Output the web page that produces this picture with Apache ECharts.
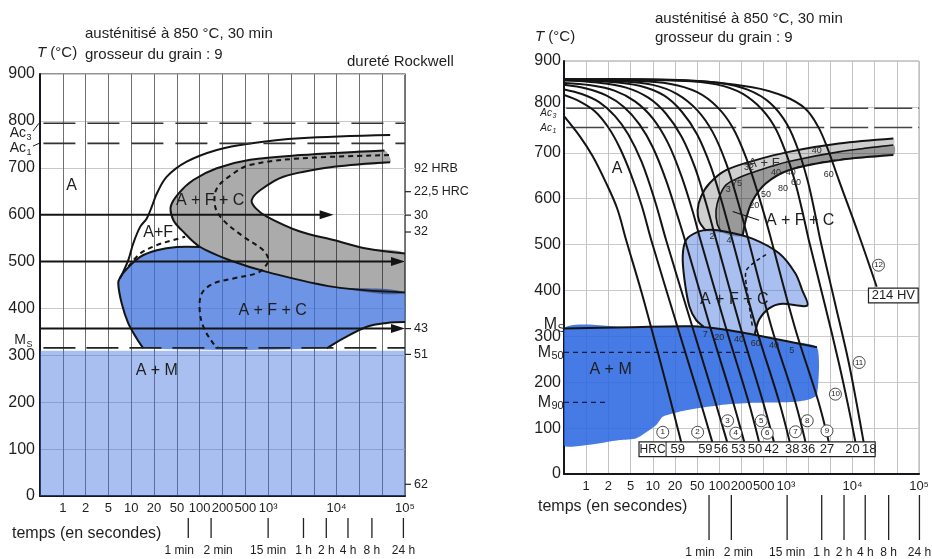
<!DOCTYPE html>
<html><head><meta charset="utf-8">
<script src="https://cdn.jsdelivr.net/npm/echarts@6/dist/echarts.min.js"></script>
<style>html,body{margin:0;padding:0;background:#fff}#c{width:932px;height:559px}</style>
</head><body><div id="c"></div>
<script>
const FONT = '"Liberation Sans", Arial, Helvetica, sans-serif';

// ---------- shared axes ----------
const timeTickLabels = ['', '1', '2', '5', '10', '20', '50', '100', '200', '500', '10³', '', '', '10⁴', '', '', '10⁵'];
const timeMarkPos = [6.5, 7.5, 10.0, 11.55, 12.55, 13.5, 14.55, 15.93];
const timeMarkText = ['1 min', '2 min', '15 min', '1 h', '2 h', '4 h', '8 h', '24 h'];

// ---------- LEFT : isothermal diagram ----------
const L_Ac3 = 795, L_Ac1 = 752, L_Ms = 316, L_martTop = 310;
const L_ferriteStart = [[15.35,770],[11.4,763],[9.21,752],[7.75,738],[6.43,713],[5.56,681],[5.12,645],[4.9,617],[4.68,592],[4.39,574],[4.09,539],[3.87,503],[3.51,464]];
const L_grayOuter = [[15.1,737],[11.4,727],[9.21,717],[7.75,699],[6.72,674],[6.07,645],[5.73,617],[5.85,588],[6.21,567],[7.02,531],[8.48,500],[9.94,478],[12.87,446],[16,434]];
const L_grayInner = [[16,517],[14.3,528],[12.87,546],[11.4,564],[9.94,596],[9.45,614],[9.28,631],[9.65,652],[10.67,681],[12.87,702],[15.35,712]];
const L_bainiteEdge = [[4.53,315],[4.24,336],[3.87,368],[3.58,411],[3.43,453],[3.51,466],[3.8,484],[4.39,510],[5.12,524],[6.0,531],[7.02,531]];
const L_lowerRight = [[12.57,315],[13.3,336],[14.33,361],[15.2,369],[16,371]];
const L_dash50 = [[15.3,727],[11.4,720],[9.2,706],[8.48,688],[7.75,656],[7.68,617],[8.04,588],[8.92,553],[9.79,524],[10.01,503],[9.79,485],[9.5,475],[8.48,464],[7.6,453],[7.09,432],[7.0,396],[7.16,361],[7.6,325],[7.82,316]];
const L_dashAF = [[3.87,489],[4.39,517],[5.12,535],[5.85,546],[6.36,553]];
const L_arrowT = [600, 500, 357];
const L_arrowEnd = [12.87, 16, 16];
const L_hardT = [699, 649, 599, 563, 357, 302, 25];
const L_hardText = ['92 HRB', '22,5 HRC', '30', '32', '43', '51', '62'];
const L_regions = [[1.39,663,'A'],[7.46,631,'A + F + C'],[5.18,561,'A+F'],[10.2,396,'A + F + C'],[5.12,268,'A + M']];

// ---------- RIGHT : continuous cooling diagram ----------
const R_Ac3 = 797, R_Ac1 = 755, R_M50 = 265, R_M90 = 156;
const R_M50End = 8.4, R_M90End = 1.9;
const R_cool1 = [[0,780],[0.7,737],[1.3,692],[1.9,634],[2.4,578],[2.8,510],[3.5,395],[4.2,270],[4.8,160],[5.28,70]];
const R_cool2 = [[0,826],[0.7,812],[1.4,790],[2.0,755],[2.5,712],[3.0,655],[3.5,585],[3.93,510],[5.13,318],[6.1,165],[6.68,70]];
const R_cool3 = [[0,838],[0.8,828],[1.6,810],[2.3,780],[2.9,740],[3.5,680],[4.1,595],[4.6,510],[5.8,318],[6.8,160],[7.35,70]];
const R_cool4 = [[0,848],[1.0,840],[1.9,825],[2.7,800],[3.4,762],[4.0,712],[4.6,640],[5.1,565],[5.45,510],[6.6,318],[7.6,160],[8.12,70]];
const R_cool5 = [[0,852],[1.2,847],[2.3,835],[3.2,812],[4.0,775],[4.7,720],[5.3,648],[5.8,572],[6.15,510],[7.3,318],[8.3,160],[8.79,70]];
const R_cool6 = [[0,858],[1.5,853],[2.8,842],[3.8,820],[4.6,785],[5.3,735],[5.9,668],[6.4,590],[6.8,520],[7.95,320],[8.95,160],[9.46,70]];
const R_cool7 = [[0,858],[2.0,855],[3.4,846],[4.5,825],[5.3,790],[6.0,740],[6.6,672],[7.1,595],[7.5,525],[8.65,320],[9.68,160],[10.17,70]];
const R_cool8 = [[0,859],[2.5,856],[4.0,848],[5.1,828],[6.0,793],[6.7,745],[7.3,678],[7.8,600],[8.2,530],[9.35,320],[10.4,160],[10.88,70]];
const R_cool9 = [[0,859],[3.0,857],[4.8,850],[6.0,832],[6.9,800],[7.6,755],[8.2,690],[8.75,610],[9.2,535],[10.4,320],[11.45,160],[11.93,70]];
const R_cool10 = [[0,860],[4.5,858],[6.5,852],[7.8,835],[8.7,805],[9.45,760],[10.0,700],[10.45,630],[10.8,560],[11.03,510],[11.75,370],[12.38,243],[12.8,150],[13.13,70]];
const R_cool11 = [[0,860],[5.0,858],[7.0,852],[8.3,837],[9.3,808],[10.05,762],[10.6,700],[11.0,635],[11.3,570],[11.55,510],[12.2,375],[12.83,243],[13.2,150],[13.5,70]];
const R_cool12 = [[0,860],[5.5,858],[8.48,843],[9.98,822],[10.9,795],[11.45,757],[11.85,713],[12.38,641],[13.27,523],[14.09,408]];
const R_msLine = [[0,317],[3.0,320],[5.8,322],[7.2,315],[8.4,305],[10.0,290],[11.4,276]];
const R_martBottom = [[11.4,172],[11.0,162],[10.27,157],[8.48,155],[7.0,150],[5.5,139],[4.45,125],[4.16,107],[3.26,78],[2.51,74],[1.02,63],[0,63]];
const R_bainiteEdge = [[8.6,305],[8.79,336],[9.24,361],[9.83,371],[10.96,367],[10.73,401],[10.43,437],[9.69,481],[8.49,513],[7.3,528],[6.6,532],[6.0,527],[5.5,510],[5.35,475],[5.43,423],[5.65,365],[5.95,336],[6.3,321]];
const R_bainiteDash = [[9.1,478],[8.6,462],[8.2,442],[8.25,400],[8.4,350],[8.5,318]];
const R_grayOuter = [[14.84,731],[12.38,720],[10.13,702],[8.64,684],[7.3,662],[6.55,633],[6.17,604],[6.02,575],[6.1,550],[6.4,530]];
const R_grayMiddle = [[14.84,717],[12.38,702],[10.13,681],[8.79,662],[7.9,646],[7.3,630],[7.0,604],[6.85,575],[6.9,546],[7.1,527]];
const R_grayInner = [[14.84,695],[12.38,684],[10.13,662],[9.09,633],[8.49,595],[8.2,555],[8.05,519]];
const R_grayDash = [[10.5,668],[11.7,680],[13.0,688]];
const R_leader = [[7.6,572],[8.79,553]];
const R_regions = [[2.39,666,'A'],[7.67,379,'A + F + C'],[2.1,227,'A + M']];
const R_smallNums = [[11.39,706,'40'],[11.93,652,'60'],[9.55,658,'40'],[10.22,658,'40'],[10.45,636,'60'],[9.87,623,'80'],[9.1,610,'50'],[8.57,586,'20'],[8.34,667,'32'],[7.8,634,'75'],[7.4,619,'3'],[6.67,517,'2'],[7.44,508,'4'],[6.37,304,'7'],[7.0,298,'20'],[7.89,292,'40'],[8.64,285,'60'],[9.46,281,'40'],[10.26,269,'5']];
const R_circles = [[4.45,91,1],[6.02,91,2],[7.37,116,3],[7.74,89,4],[8.89,116,5],[9.16,89,6],[10.43,92,7],[10.96,116,8],[11.85,94,9],[12.23,174,10],[13.3,243,11],[14.17,455,12]];
const R_hrcValues = [59, 59, 56, 53, 50, 42, 38, 36, 27, 20, 18];
const R_hrcPos = [5.13, 6.37, 7.07, 7.86, 8.61, 9.36, 10.28, 10.99, 11.85, 13.0, 13.75];
const R_hrcBoxX = [3.38, 14.02], R_hrcBoxT = [70, 38], R_hrcDivider = 4.6;
const R_hvBoxX = [13.72, 15.96], R_hvBoxT = [405, 373], R_hvText = '214 HV';

// ---------- helpers ----------
const S = [];
function shape(g, pts, o) {
  S.push({
    type: 'custom', xAxisIndex: g, yAxisIndex: g, silent: true, clip: o.clip !== false, z: o.z || 2,
    data: pts.map(p => [p[0], p[1]]),
    renderItem: (params, api) => {
      if (params.dataIndex !== 0) return null;
      const P = pts.map(p => api.coord(p));
      return { type: o.closed ? 'polygon' : 'polyline', shape: { points: P, smooth: o.smooth || 0 }, style: o.style };
    }
  });
}
function fillPoly(g, pts, color, smooth, z) { shape(g, pts, { closed: true, smooth: smooth, z: z || 1, style: { fill: color, stroke: null } }); }
function stroke(g, pts, w, smooth, dash, z, color) {
  shape(g, pts, { closed: false, smooth: smooth, z: z || 3, style: { fill: null, stroke: color || '#141414', lineWidth: w, lineDash: dash || null, lineJoin: 'round', lineCap: 'butt' } });
}
function texts(g, items, o) {
  S.push({
    type: 'custom', xAxisIndex: g, yAxisIndex: g, silent: true, clip: false, z: o.z || 10,
    data: items.map(d => [d[0], d[1]]),
    renderItem: (params, api) => {
      const d = items[params.dataIndex];
      const c = api.coord([d[0], d[1]]);
      return { type: 'text', x: c[0] + (o.dx || 0), y: c[1] + (o.dy || 0),
        style: { text: String(d[2]), fill: o.color || '#1e1e1e', fontSize: o.size, fontFamily: FONT,
          fontStyle: o.italic ? 'italic' : 'normal', align: o.align || 'center', verticalAlign: 'middle' } };
    }
  });
}
// label left of the y axis with subscript
function subLabels(g, items, o) {
  S.push({
    type: 'custom', xAxisIndex: g, yAxisIndex: g, silent: true, clip: false, z: 10,
    data: items.map(d => [0, d[0]]),
    renderItem: (params, api) => {
      const d = items[params.dataIndex];
      const c = api.coord([0, d[0]]);
      const xr = c[0] - o.gap - d[3];
      const ch = [
        { type: 'text', x: xr, y: c[1] + (d[4] || 0), style: { text: d[1], fill: '#1e1e1e', fontSize: o.size, fontFamily: FONT, fontStyle: o.italic ? 'italic' : 'normal', align: 'right', verticalAlign: 'middle' } },
        { type: 'text', x: xr + 0.5, y: c[1] + (d[4] || 0) + o.subDy, style: { text: d[2], fill: '#1e1e1e', fontSize: o.subSize, fontFamily: FONT, fontStyle: o.italic ? 'italic' : 'normal', align: 'left', verticalAlign: 'middle' } }
      ];
      if (d[5] != null) {
        const t = api.coord([0, d[5]]);
        ch.push({ type: 'line', shape: { x1: xr + d[3] + 1, y1: c[1] + (d[4] || 0) - 2, x2: t[0] - 1, y2: t[1] }, style: { stroke: '#222', lineWidth: 1 } });
      }
      return { type: 'group', children: ch };
    }
  });
}

// ================= LEFT CHART (grid 0) =================
fillPoly(0, [[0,0],[16,0],[16,L_martTop],[0,L_martTop]], 'rgba(60,110,220,0.44)', 0, 1);
fillPoly(0, L_bainiteEdge.concat([[8.48,500],[9.94,478],[12.87,446],[16,434],[16,371]]).concat(L_lowerRight.slice().reverse()), 'rgba(60,110,220,0.74)', 0.25, 1);
fillPoly(0, L_grayOuter.concat(L_grayInner), 'rgba(0,0,0,0.33)', 0.25, 1);
stroke(0, L_ferriteStart, 2, 0.35);
stroke(0, L_grayOuter, 2, 0.35);
stroke(0, L_grayInner, 2, 0.35);
stroke(0, L_bainiteEdge, 2, 0.35);
stroke(0, L_lowerRight, 2, 0.35);
stroke(0, L_dash50, 2, 0.35, [5, 4]);
stroke(0, L_dashAF, 2, 0.35, [5, 4]);
stroke(0, [[0.15, L_Ac3], [16, L_Ac3]], 1.6, 0, [32, 12], 3, '#333');
stroke(0, [[0.15, L_Ac1], [16, L_Ac1]], 1.6, 0, [32, 12], 3, '#333');
stroke(0, [[0.15, L_Ms], [16, L_Ms]], 1.8, 0, [32, 11], 3, '#222');
// isothermal arrows
S.push({
  type: 'custom', xAxisIndex: 0, yAxisIndex: 0, silent: true, clip: false, z: 4,
  data: L_arrowT.map((t, i) => [L_arrowEnd[i], t]),
  renderItem: (params, api) => {
    const s = api.coord([0, api.value(1)]), e = api.coord([api.value(0), api.value(1)]);
    return { type: 'group', children: [
      { type: 'line', shape: { x1: s[0], y1: s[1], x2: e[0] - 10, y2: e[1] }, style: { stroke: '#141414', lineWidth: 2 } },
      { type: 'polygon', shape: { points: [[e[0], e[1]], [e[0] - 14, e[1] - 4.5], [e[0] - 14, e[1] + 4.5]] }, style: { fill: '#141414' } }
    ] };
  }
});
// hardness scale at right
S.push({
  type: 'custom', xAxisIndex: 0, yAxisIndex: 0, silent: true, clip: false, z: 10,
  data: L_hardT.map(t => [16, t]),
  renderItem: (params, api) => {
    const c = api.coord([16, api.value(1)]);
    const txt = L_hardText[params.dataIndex];
    const ch = [{ type: 'text', x: c[0] + 9, y: c[1], style: { text: txt, fill: '#1e1e1e', fontSize: 12.5, fontFamily: FONT, align: 'left', verticalAlign: 'middle' } }];
    if (params.dataIndex > 0) ch.push({ type: 'line', shape: { x1: c[0], y1: c[1], x2: c[0] + 6, y2: c[1] }, style: { stroke: '#222', lineWidth: 1.2 } });
    return { type: 'group', children: ch };
  }
});
texts(0, L_regions, { size: 16 });
subLabels(0, [[774, 'Ac', '3', 6, 0, L_Ac3], [742, 'Ac', '1', 6, 0, L_Ac1], [332, 'M', 'S', 6, 0, null]], { gap: 8, size: 14, subSize: 9, subDy: 4 });

// ================= RIGHT CHART (grid 1) =================
fillPoly(1, R_grayOuter.concat(R_grayMiddle.slice().reverse()), 'rgba(0,0,0,0.19)', 0.3, 1);
fillPoly(1, R_grayMiddle.concat(R_grayInner.slice().reverse()), 'rgba(0,0,0,0.40)', 0.3, 1);
fillPoly(1, R_bainiteEdge, 'rgba(60,110,220,0.44)', 0.3, 1);
fillPoly(1, R_msLine.concat(R_martBottom), 'rgba(40,100,225,0.86)', 0.2, 1);
stroke(1, R_grayOuter, 2, 0.35);
stroke(1, R_grayMiddle, 1.6, 0.35);
stroke(1, R_grayInner, 2, 0.35);
stroke(1, R_grayDash, 1.5, 0.3, [6, 5]);
stroke(1, R_bainiteEdge, 2, 0.3);
stroke(1, R_bainiteDash, 1.5, 0.3, [4, 3]);
stroke(1, R_msLine, 2, 0.3);
stroke(1, [[0, R_M50], [R_M50End, R_M50]], 1.2, 0, [5, 4], 3, '#1a1a3a');
stroke(1, [[0, R_M90], [R_M90End, R_M90]], 1.2, 0, [5, 4], 3, '#1a1a3a');
stroke(1, [[0.1, R_Ac3], [16, R_Ac3]], 1.4, 0, [38, 6], 3, '#444');
stroke(1, [[0.1, R_Ac1], [16, R_Ac1]], 1.4, 0, [38, 6], 3, '#444');
[R_cool1, R_cool2, R_cool3, R_cool4, R_cool5, R_cool6, R_cool7, R_cool8, R_cool9, R_cool10, R_cool11, R_cool12]
  .forEach(c => stroke(1, c, 2, 0.35, null, 4));
stroke(1, R_leader, 1.2, 0, null, 4);
texts(1, R_regions, { size: 16 });
texts(1, [[9.01, 677, 'A + F']], { size: 13, color: '#333' });
texts(1, [[9.1, 553, 'A + F + C']], { size: 16, align: 'left' });
texts(1, R_smallNums, { size: 9, color: '#2a2a2a' });
// circled curve numbers
S.push({
  type: 'custom', xAxisIndex: 1, yAxisIndex: 1, silent: true, clip: false, z: 10,
  data: R_circles.map(d => [d[0], d[1]]),
  renderItem: (params, api) => {
    const c = api.coord([api.value(0), api.value(1)]);
    return { type: 'group', children: [
      { type: 'circle', shape: { cx: c[0], cy: c[1], r: 6 }, style: { fill: '#fff', stroke: '#333', lineWidth: 0.9 } },
      { type: 'text', x: c[0], y: c[1], style: { text: String(R_circles[params.dataIndex][2]), fill: '#222', fontSize: 8, fontFamily: FONT, align: 'center', verticalAlign: 'middle' } }
    ] };
  }
});
// HRC table
S.push({
  type: 'custom', xAxisIndex: 1, yAxisIndex: 1, silent: true, clip: false, z: 9,
  data: [[R_hrcBoxX[0], R_hrcBoxT[0]]],
  renderItem: (params, api) => {
    const a = api.coord([R_hrcBoxX[0], R_hrcBoxT[0]]), b = api.coord([R_hrcBoxX[1], R_hrcBoxT[1]]);
    const dv = api.coord([R_hrcDivider, R_hrcBoxT[0]]);
    const ym = (a[1] + b[1]) / 2;
    const ch = [
      { type: 'rect', shape: { x: a[0], y: a[1], width: b[0] - a[0], height: b[1] - a[1] }, style: { fill: '#fff', stroke: '#222', lineWidth: 1.2 } },
      { type: 'line', shape: { x1: dv[0], y1: a[1], x2: dv[0], y2: b[1] }, style: { stroke: '#222', lineWidth: 1 } },
      { type: 'text', x: (a[0] + dv[0]) / 2, y: ym, style: { text: 'HRC', fill: '#1e1e1e', fontSize: 12, fontFamily: FONT, align: 'center', verticalAlign: 'middle' } }
    ];
    R_hrcValues.forEach((v, i) => {
      const p = api.coord([R_hrcPos[i], R_hrcBoxT[0]]);
      ch.push({ type: 'text', x: p[0], y: ym, style: { text: String(v), fill: '#1e1e1e', fontSize: 13, fontFamily: FONT, align: 'center', verticalAlign: 'middle' } });
    });
    return { type: 'group', children: ch };
  }
});
S.push({
  type: 'custom', xAxisIndex: 1, yAxisIndex: 1, silent: true, clip: false, z: 9,
  data: [[R_hvBoxX[0], R_hvBoxT[0]]],
  renderItem: (params, api) => {
    const a = api.coord([R_hvBoxX[0], R_hvBoxT[0]]), b = api.coord([R_hvBoxX[1], R_hvBoxT[1]]);
    return { type: 'group', children: [
      { type: 'rect', shape: { x: a[0], y: a[1], width: b[0] - a[0], height: b[1] - a[1] }, style: { fill: '#fff', stroke: '#222', lineWidth: 1.2 } },
      { type: 'text', x: (a[0] + b[0]) / 2, y: (a[1] + b[1]) / 2, style: { text: R_hvText, fill: '#1e1e1e', fontSize: 13, fontFamily: FONT, align: 'center', verticalAlign: 'middle' } }
    ] };
  }
});
subLabels(1, [[787, 'Ac', '3', 5, 0, null], [R_Ac1 - 1, 'Ac', '1', 5, 0, null]], { gap: 7, size: 10, subSize: 7, subDy: 3, italic: true });
subLabels(1, [[325, 'M', 'S', 6, 0, null], [R_M50, 'M', '50', 12, 0, null], [R_M90, 'M', '90', 12, 0, null]], { gap: 1, size: 16, subSize: 11, subDy: 4 });

// ================= time marks (grids 2,3) =================
[2, 3].forEach(g => {
  S.push({
    type: 'custom', xAxisIndex: g, yAxisIndex: g, silent: true, clip: false, z: 5,
    data: timeMarkPos.map(p => [p, 1]),
    renderItem: (params, api) => {
      const top = api.coord([api.value(0), 1]), bot = api.coord([api.value(0), 0]);
      const i = params.dataIndex;
      const dx = i === 0 ? -9 : (i === 1 ? 7 : 0);
      return { type: 'group', children: [
        { type: 'line', shape: { x1: top[0], y1: top[1], x2: bot[0], y2: bot[1] }, style: { stroke: '#222', lineWidth: 1.3 } },
        { type: 'text', x: bot[0] + dx, y: bot[1] + 7, style: { text: timeMarkText[i], fill: '#1e1e1e', fontSize: 12, fontFamily: FONT, align: 'center', verticalAlign: 'top' } }
      ] };
    }
  });
});

// ================= axes =================
function xAx(g, splitColor, show) {
  return { gridIndex: g, type: 'value', min: 0, max: 16, interval: 1, show: show,
    axisLine: { show: true, onZero: false, lineStyle: { color: '#16161e', width: 2 } },
    axisTick: { show: false },
    axisLabel: { formatter: v => timeTickLabels[Math.round(v)] || '', fontSize: 13, color: '#1e1e1e', margin: 6, fontFamily: FONT, showMinLabel: true, showMaxLabel: true, hideOverlap: false },
    splitLine: { show: true, lineStyle: { color: splitColor, width: 1 } } };
}
function yAx(g, splitColor, show, size, margin, raise800) {
  return { gridIndex: g, type: 'value', min: 0, max: 900, interval: 100, show: show,
    axisLine: { show: true, onZero: false, lineStyle: { color: '#16161e', width: 2 } },
    axisTick: { show: false },
    axisLabel: { fontSize: size, color: '#1e1e1e', margin: margin, fontFamily: FONT,
      formatter: v => (raise800 && v === 800) ? '{u|800}' : String(v),
      rich: { u: { fontSize: size, fontFamily: FONT, color: '#1e1e1e', padding: [0, 0, 9, 0] } } },
    splitLine: { show: true, lineStyle: { color: splitColor, width: 1 } } };
}
const xAxes = [xAx(0, '#707070', true), xAx(1, '#c2c2c2', true),
  { gridIndex: 2, type: 'value', min: 0, max: 16, show: false }, { gridIndex: 3, type: 'value', min: 0, max: 16, show: false }];
const yAxes = [yAx(0, '#c8c8c8', true, 16, 5, false), yAx(1, '#cacaca', true, 16, 3, true),
  { gridIndex: 2, type: 'value', min: 0, max: 1, show: false }, { gridIndex: 3, type: 'value', min: 0, max: 1, show: false }];

function txt(x, y, t, size, extra) {
  return Object.assign({ type: 'text', x: x, y: y, style: Object.assign({ text: t, fontSize: size, fontFamily: FONT, fill: '#1e1e1e', verticalAlign: 'middle' }, extra || {}) });
}
const graphics = [
  { type: 'text', x: 37, y: 53, style: { text: '{i|T} (°C)', fontSize: 15, fontFamily: FONT, fill: '#1e1e1e', verticalAlign: 'middle', rich: { i: { fontStyle: 'italic', fontSize: 15, fontFamily: FONT } } } },
  txt(85, 34, 'austénitisé à 850 °C, 30 min', 15),
  txt(85, 55, 'grosseur du grain : 9', 15),
  txt(347, 62, 'dureté Rockwell', 15),
  txt(12, 534, 'temps (en secondes)', 16),
  { type: 'text', x: 535, y: 37, style: { text: '{i|T} (°C)', fontSize: 15, fontFamily: FONT, fill: '#1e1e1e', verticalAlign: 'middle', rich: { i: { fontStyle: 'italic', fontSize: 15, fontFamily: FONT } } } },
  txt(655, 19, 'austénitisé à 850 °C, 30 min', 15),
  txt(655, 38, 'grosseur du grain : 9', 15),
  txt(538, 507, 'temps (en secondes)', 16)
];

const chart = echarts.init(document.getElementById('c'), null, { renderer: 'canvas', width: 932, height: 559 });
chart.setOption({
  animation: false,
  backgroundColor: '#fff',
  grid: [
    { left: 40, top: 74, width: 365, height: 422, show: true, borderColor: '#2a2a2a', borderWidth: 1.2, backgroundColor: 'transparent' },
    { left: 564, top: 61, width: 357, height: 413, show: true, borderColor: '#9a9a9a', borderWidth: 1, backgroundColor: 'transparent' },
    { left: 40, top: 518, width: 365, height: 20 },
    { left: 564, top: 495, width: 357, height: 45 }
  ],
  xAxis: xAxes,
  yAxis: yAxes,
  graphic: graphics,
  series: S
});
</script></body></html>
